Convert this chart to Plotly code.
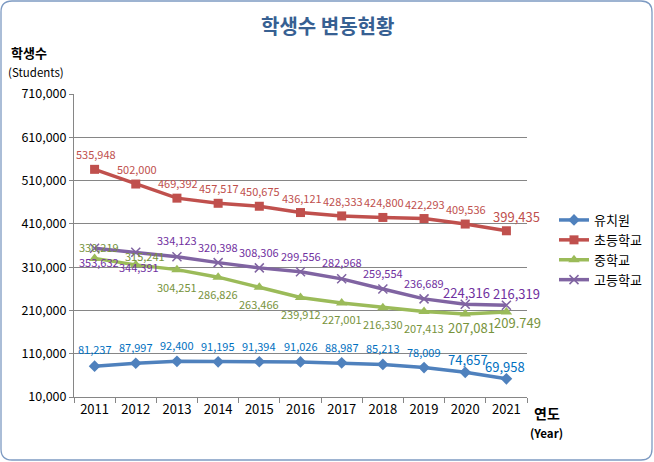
import plotly.graph_objects as go

years = ["2011", "2012", "2013", "2014", "2015", "2016", "2017", "2018", "2019", "2020", "2021"]
# plotted positions
kinder = [81237, 87997, 92400, 91195, 91394, 91026, 88987, 85213, 78009, 67000, 52000]
elem = [535948, 502000, 469392, 457517, 450675, 436121, 428333, 424800, 422293, 409536, 394000]
middle = [330219, 315241, 304251, 286826, 263466, 239912, 227001, 216330, 207413, 202000, 206500]
high = [353632, 344391, 334123, 320398, 308306, 299556, 282968, 259554, 236689, 224316, 222000]

# data labels as printed on the chart
kinder_lbl = ["81,237", "87,997", "92,400", "91,195", "91,394", "91,026", "88,987", "85,213", "78,009", "74,657", "69,958"]
elem_lbl = ["535,948", "502,000", "469,392", "457,517", "450,675", "436,121", "428,333", "424,800", "422,293", "409,536", "399,435"]
middle_lbl = ["330,219", "315,241", "304,251", "286,826", "263,466", "239,912", "227,001", "216,330", "207,413", "207,081", "209.749"]
high_lbl = ["353,632", "344,391", "334,123", "320,398", "308,306", "299,556", "282,968", "259,554", "236,689", "224,316", "216,319"]

y_ticks = [10000, 110000, 210000, 310000, 410000, 510000, 610000, 710000]

FONT = "Noto Sans CJK KR, Malgun Gothic, sans-serif"

series = [
    dict(name="유치원", y=kinder, lbl=kinder_lbl, color="#4F81BD", tcolor="#0070C0",
         marker=dict(symbol="diamond", size=9),
         dx=[0]*9 + [3, -1], dy=[17, 16, 16, 16, 16, 16, 16, 16, 16, 13, 12],
         big=[False]*9 + [True, True]),
    dict(name="초등학교", y=elem, lbl=elem_lbl, color="#C0504D", tcolor="#C0504D",
         marker=dict(symbol="square", size=9),
         dx=[1]*10 + [10], dy=[15]*10 + [14],
         big=[False]*10 + [True]),
    dict(name="중학교", y=middle, lbl=middle_lbl, color="#9BBB59", tcolor="#77933C",
         marker=dict(symbol="triangle-up", size=10),
         dx=[4, 9, 0, 0, 0, 0, 0, 0, 0, 6, 11], dy=[11, 9, -17, -17, -17, -17, -16, -16, -16, -14, -11],
         big=[False]*9 + [True, True]),
    dict(name="고등학교", y=high, lbl=high_lbl, color="#8064A2", tcolor="#7030A0",
         marker=dict(symbol="x-thin-open", size=9, line=dict(width=1.5, color="#8064A2")),
         dx=[4, 3, 0, 0, 0, 0, 0, 0, 0, 1, 10], dy=[-14, -15, 17, 16, 16, 16, 17, 16, 16, 12, 12],
         big=[False]*9 + [True, True]),
]

W, H = 654, 462
L, R, T, B = 74, 127, 94, 65
pw, ph = W - L - R, H - T - B


def px(x):
    return (x - L) / pw


def py(y):
    return (H - B - y) / ph


fig = go.Figure()
annotations = []
for s in series:
    fig.add_trace(go.Scatter(
        x=years, y=s["y"], name=s["name"], mode="lines+markers",
        line=dict(color=s["color"], width=3.5),
        marker=dict(color=s["color"], **s["marker"]),
    ))
    for i, (yv, t) in enumerate(zip(s["y"], s["lbl"])):
        annotations.append(dict(
            x=i, y=yv, xref="x", yref="y", text=t, showarrow=False,
            xanchor="center", yanchor="middle",
            xshift=s["dx"][i], yshift=s["dy"][i],
            font=dict(family=FONT, size=13 if s["big"][i] else 11, color=s["tcolor"]),
        ))


def txt(x, y, text, size, color="#000000"):
    return dict(x=px(x), y=py(y), xref="paper", yref="paper", showarrow=False,
                xanchor="center", yanchor="middle", text=text,
                font=dict(family=FONT, size=size, color=color))


annotations += [
    txt(327, 25, "<b>학생수 변동현황</b>", 20, "#376092"),
    txt(29, 52, "<b>학생수</b>", 13),
    txt(36, 72, "(Students)", 11.5),
    txt(547, 413, "<b>연도</b>", 14),
    txt(546, 433, "<b>(Year)</b>", 11.5),
]


def rr(x0, y0, x1, y1, r):
    X, Y = px, py
    return (f"M {X(x0+r)},{Y(y0)} L {X(x1-r)},{Y(y0)} Q {X(x1)},{Y(y0)} {X(x1)},{Y(y0+r)} "
            f"L {X(x1)},{Y(y1-r)} Q {X(x1)},{Y(y1)} {X(x1-r)},{Y(y1)} "
            f"L {X(x0+r)},{Y(y1)} Q {X(x0)},{Y(y1)} {X(x0)},{Y(y1-r)} "
            f"L {X(x0)},{Y(y0+r)} Q {X(x0)},{Y(y0)} {X(x0+r)},{Y(y0)} Z")


fig.update_layout(
    width=W, height=H,
    margin=dict(l=L, r=R, t=T, b=B, autoexpand=False),
    paper_bgcolor="#FFFFFF", plot_bgcolor="#FFFFFF",
    showlegend=True,
    legend=dict(x=px(554), y=py(205), xanchor="left", yanchor="top",
                font=dict(family=FONT, size=13, color="#000000"),
                bgcolor="rgba(0,0,0,0)", itemwidth=30, tracegroupgap=0),
    font=dict(family=FONT, color="#000000"),
    annotations=annotations,
    shapes=[dict(type="path", xref="paper", yref="paper", path=rr(1, 1, 652, 460, 11),
                 line=dict(color="#7D9AC2", width=1.3), layer="below")],
)

fig.update_xaxes(
    type="category", tickson="boundaries", ticks="outside", ticklen=5, tickcolor="#868686",
    showline=True, linecolor="#868686", linewidth=1, showgrid=False,
    tickfont=dict(family=FONT, size=13, color="#000000"),
    range=[-0.5, 10.5],
)
fig.update_yaxes(
    range=[10000, 710000], tickvals=y_ticks, tickformat=",d",
    ticks="outside", ticklen=4, tickcolor="#868686",
    showline=True, linecolor="#868686", linewidth=1,
    showgrid=True, gridcolor="#868686", gridwidth=1, zeroline=False,
    tickfont=dict(family=FONT, size=12.5, color="#000000"),
)

fig.write_html("out.html", config={"displayModeBar": False},
               post_script="document.body.style.margin='0';document.body.style.overflow='hidden';")
